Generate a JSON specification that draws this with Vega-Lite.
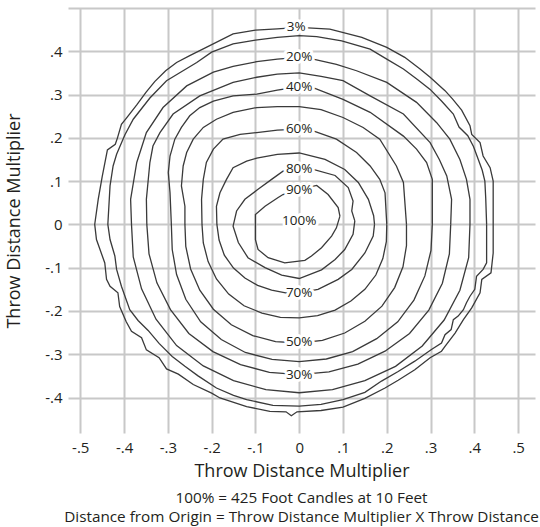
{
"$schema": "https://vega.github.io/schema/vega-lite/v6.json",
"width": 467, "height": 425,
"autosize": {"type": "none"},
"padding": {"left": 68, "top": 8, "right": 5, "bottom": 94},
"background": "white",
"title": {"text": ["100% = 425 Foot Candles at 10 Feet", "Distance from Origin = Throw Distance Multiplier X Throw Distance"], "orient": "bottom", "anchor": "middle", "fontSize": 15.3, "fontWeight": "normal", "font": "Open Sans", "color": "#231f20", "lineHeight": 19, "offset": 11},
"datasets": {
"contours": [
{"level":"3%","x":0.443,"y":0},{"level":"3%","x":0.443,"y":0.10},{"level":"3%","x":0.436,"y":0.131},{"level":"3%","x":0.420,"y":0.158},{"level":"3%","x":0.413,"y":0.189},{"level":"3%","x":0.394,"y":0.208},{"level":"3%","x":0.390,"y":0.228},{"level":"3%","x":0.371,"y":0.264},{"level":"3%","x":0.350,"y":0.290},{"level":"3%","x":0.333,"y":0.309},{"level":"3%","x":0.299,"y":0.340},{"level":"3%","x":0.276,"y":0.359},{"level":"3%","x":0.241,"y":0.386},{"level":"3%","x":0.200,"y":0.409},{"level":"3%","x":0.143,"y":0.432},{"level":"3%","x":0.070,"y":0.451},{"level":"3%","x":0,"y":0.455},{"level":"3%","x":-0.05,"y":0.452},{"level":"3%","x":-0.1,"y":0.449},{"level":"3%","x":-0.151,"y":0.440},{"level":"3%","x":-0.210,"y":0.410},{"level":"3%","x":-0.250,"y":0.390},{"level":"3%","x":-0.280,"y":0.374},{"level":"3%","x":-0.305,"y":0.355},{"level":"3%","x":-0.330,"y":0.330},{"level":"3%","x":-0.350,"y":0.305},{"level":"3%","x":-0.371,"y":0.276},{"level":"3%","x":-0.395,"y":0.245},{"level":"3%","x":-0.406,"y":0.231},{"level":"3%","x":-0.415,"y":0.200},{"level":"3%","x":-0.420,"y":0.185},{"level":"3%","x":-0.438,"y":0.172},{"level":"3%","x":-0.450,"y":0.110},{"level":"3%","x":-0.459,"y":0.058},{"level":"3%","x":-0.467,"y":0.0},{"level":"3%","x":-0.463,"y":-0.035},{"level":"3%","x":-0.444,"y":-0.089},{"level":"3%","x":-0.440,"y":-0.127},{"level":"3%","x":-0.432,"y":-0.143},{"level":"3%","x":-0.414,"y":-0.158},{"level":"3%","x":-0.410,"y":-0.190},{"level":"3%","x":-0.395,"y":-0.225},{"level":"3%","x":-0.383,"y":-0.247},{"level":"3%","x":-0.360,"y":-0.262},{"level":"3%","x":-0.349,"y":-0.290},{"level":"3%","x":-0.320,"y":-0.308},{"level":"3%","x":-0.303,"y":-0.334},{"level":"3%","x":-0.276,"y":-0.346},{"level":"3%","x":-0.242,"y":-0.370},{"level":"3%","x":-0.200,"y":-0.390},{"level":"3%","x":-0.181,"y":-0.401},{"level":"3%","x":-0.120,"y":-0.421},{"level":"3%","x":-0.067,"y":-0.432},{"level":"3%","x":-0.030,"y":-0.433},{"level":"3%","x":-0.018,"y":-0.442},{"level":"3%","x":-0.005,"y":-0.433},{"level":"3%","x":0.05,"y":-0.430},{"level":"3%","x":0.10,"y":-0.422},{"level":"3%","x":0.15,"y":-0.402},{"level":"3%","x":0.196,"y":-0.378},{"level":"3%","x":0.226,"y":-0.360},{"level":"3%","x":0.264,"y":-0.336},{"level":"3%","x":0.299,"y":-0.308},{"level":"3%","x":0.325,"y":-0.293},{"level":"3%","x":0.333,"y":-0.282},{"level":"3%","x":0.356,"y":-0.251},{"level":"3%","x":0.375,"y":-0.220},{"level":"3%","x":0.394,"y":-0.193},{"level":"3%","x":0.413,"y":-0.158},{"level":"3%","x":0.417,"y":-0.127},{"level":"3%","x":0.438,"y":-0.112},{"level":"3%","x":0.443,"y":-0.066},{"level":"3%","x":0.443,"y":0},

{"level":"10%","x":0.428,"y":0},{"level":"10%","x":0.426,"y":0.06},{"level":"10%","x":0.424,"y":0.100},{"level":"10%","x":0.418,"y":0.125},{"level":"10%","x":0.409,"y":0.150},{"level":"10%","x":0.398,"y":0.180},{"level":"10%","x":0.385,"y":0.205},{"level":"10%","x":0.365,"y":0.225},{"level":"10%","x":0.352,"y":0.255},{"level":"10%","x":0.325,"y":0.285},{"level":"10%","x":0.299,"y":0.312},{"level":"10%","x":0.270,"y":0.335},{"level":"10%","x":0.238,"y":0.359},{"level":"10%","x":0.200,"y":0.382},{"level":"10%","x":0.162,"y":0.405},{"level":"10%","x":0.097,"y":0.424},{"level":"10%","x":0.04,"y":0.434},{"level":"10%","x":0,"y":0.436},{"level":"10%","x":-0.05,"y":0.432},{"level":"10%","x":-0.1,"y":0.426},{"level":"10%","x":-0.151,"y":0.417},{"level":"10%","x":-0.200,"y":0.398},{"level":"10%","x":-0.234,"y":0.374},{"level":"10%","x":-0.270,"y":0.352},{"level":"10%","x":-0.303,"y":0.332},{"level":"10%","x":-0.341,"y":0.292},{"level":"10%","x":-0.379,"y":0.243},{"level":"10%","x":-0.398,"y":0.207},{"level":"10%","x":-0.417,"y":0.162},{"level":"10%","x":-0.425,"y":0.135},{"level":"10%","x":-0.432,"y":0.089},{"level":"10%","x":-0.437,"y":0},{"level":"10%","x":-0.432,"y":-0.035},{"level":"10%","x":-0.421,"y":-0.073},{"level":"10%","x":-0.417,"y":-0.104},{"level":"10%","x":-0.406,"y":-0.143},{"level":"10%","x":-0.387,"y":-0.197},{"level":"10%","x":-0.368,"y":-0.222},{"level":"10%","x":-0.345,"y":-0.245},{"level":"10%","x":-0.320,"y":-0.275},{"level":"10%","x":-0.290,"y":-0.305},{"level":"10%","x":-0.261,"y":-0.328},{"level":"10%","x":-0.231,"y":-0.350},{"level":"10%","x":-0.189,"y":-0.378},{"level":"10%","x":-0.150,"y":-0.395},{"level":"10%","x":-0.120,"y":-0.405},{"level":"10%","x":-0.06,"y":-0.418},{"level":"10%","x":0,"y":-0.420},{"level":"10%","x":0.05,"y":-0.416},{"level":"10%","x":0.10,"y":-0.405},{"level":"10%","x":0.15,"y":-0.388},{"level":"10%","x":0.188,"y":-0.362},{"level":"10%","x":0.226,"y":-0.340},{"level":"10%","x":0.264,"y":-0.316},{"level":"10%","x":0.302,"y":-0.289},{"level":"10%","x":0.325,"y":-0.274},{"level":"10%","x":0.333,"y":-0.255},{"level":"10%","x":0.347,"y":-0.243},{"level":"10%","x":0.352,"y":-0.220},{"level":"10%","x":0.363,"y":-0.212},{"level":"10%","x":0.375,"y":-0.197},{"level":"10%","x":0.382,"y":-0.181},{"level":"10%","x":0.390,"y":-0.166},{"level":"10%","x":0.401,"y":-0.150},{"level":"10%","x":0.405,"y":-0.120},{"level":"10%","x":0.420,"y":-0.104},{"level":"10%","x":0.428,"y":-0.089},{"level":"10%","x":0.428,"y":0},

{"level":"20%","x":0.390,"y":0},{"level":"20%","x":0.390,"y":0.058},{"level":"20%","x":0.382,"y":0.104},{"level":"20%","x":0.367,"y":0.150},{"level":"20%","x":0.344,"y":0.197},{"level":"20%","x":0.314,"y":0.235},{"level":"20%","x":0.268,"y":0.282},{"level":"20%","x":0.200,"y":0.328},{"level":"20%","x":0.131,"y":0.355},{"level":"20%","x":0.085,"y":0.370},{"level":"20%","x":0.032,"y":0.382},{"level":"20%","x":0,"y":0.386},{"level":"20%","x":-0.05,"y":0.382},{"level":"20%","x":-0.097,"y":0.376},{"level":"20%","x":-0.151,"y":0.365},{"level":"20%","x":-0.196,"y":0.352},{"level":"20%","x":-0.257,"y":0.320},{"level":"20%","x":-0.311,"y":0.270},{"level":"20%","x":-0.349,"y":0.212},{"level":"20%","x":-0.371,"y":0.143},{"level":"20%","x":-0.385,"y":0.058},{"level":"20%","x":-0.383,"y":0},{"level":"20%","x":-0.379,"y":-0.075},{"level":"20%","x":-0.360,"y":-0.149},{"level":"20%","x":-0.327,"y":-0.219},{"level":"20%","x":-0.280,"y":-0.280},{"level":"20%","x":-0.219,"y":-0.327},{"level":"20%","x":-0.150,"y":-0.361},{"level":"20%","x":-0.076,"y":-0.382},{"level":"20%","x":0,"y":-0.389},{"level":"20%","x":0.076,"y":-0.382},{"level":"20%","x":0.150,"y":-0.361},{"level":"20%","x":0.220,"y":-0.328},{"level":"20%","x":0.281,"y":-0.281},{"level":"20%","x":0.331,"y":-0.221},{"level":"20%","x":0.367,"y":-0.152},{"level":"20%","x":0.387,"y":-0.077},{"level":"20%","x":0.390,"y":0},

{"level":"30%","x":0.346,"y":0},{"level":"30%","x":0.348,"y":0.058},{"level":"30%","x":0.337,"y":0.112},{"level":"30%","x":0.320,"y":0.150},{"level":"30%","x":0.299,"y":0.189},{"level":"30%","x":0.238,"y":0.255},{"level":"30%","x":0.162,"y":0.297},{"level":"30%","x":0.100,"y":0.332},{"level":"30%","x":0.05,"y":0.342},{"level":"30%","x":0,"y":0.350},{"level":"30%","x":-0.05,"y":0.347},{"level":"30%","x":-0.097,"y":0.340},{"level":"30%","x":-0.151,"y":0.328},{"level":"30%","x":-0.227,"y":0.297},{"level":"30%","x":-0.288,"y":0.255},{"level":"30%","x":-0.318,"y":0.212},{"level":"30%","x":-0.334,"y":0.181},{"level":"30%","x":-0.341,"y":0.143},{"level":"30%","x":-0.349,"y":0.058},{"level":"30%","x":-0.348,"y":0},{"level":"30%","x":-0.343,"y":-0.068},{"level":"30%","x":-0.325,"y":-0.135},{"level":"30%","x":-0.294,"y":-0.197},{"level":"30%","x":-0.252,"y":-0.252},{"level":"30%","x":-0.197,"y":-0.294},{"level":"30%","x":-0.134,"y":-0.324},{"level":"30%","x":-0.068,"y":-0.342},{"level":"30%","x":0,"y":-0.347},{"level":"30%","x":0.068,"y":-0.341},{"level":"30%","x":0.134,"y":-0.323},{"level":"30%","x":0.196,"y":-0.293},{"level":"30%","x":0.252,"y":-0.252},{"level":"30%","x":0.296,"y":-0.198},{"level":"30%","x":0.327,"y":-0.136},{"level":"30%","x":0.343,"y":-0.068},{"level":"30%","x":0.346,"y":0},

{"level":"40%","x":0.304,"y":0},{"level":"40%","x":0.304,"y":0.104},{"level":"40%","x":0.291,"y":0.143},{"level":"40%","x":0.268,"y":0.174},{"level":"40%","x":0.238,"y":0.204},{"level":"40%","x":0.162,"y":0.259},{"level":"40%","x":0.100,"y":0.289},{"level":"40%","x":0.036,"y":0.314},{"level":"40%","x":0,"y":0.318},{"level":"40%","x":-0.05,"y":0.310},{"level":"40%","x":-0.097,"y":0.301},{"level":"40%","x":-0.151,"y":0.297},{"level":"40%","x":-0.196,"y":0.285},{"level":"40%","x":-0.227,"y":0.270},{"level":"40%","x":-0.250,"y":0.251},{"level":"40%","x":-0.269,"y":0.224},{"level":"40%","x":-0.284,"y":0.197},{"level":"40%","x":-0.295,"y":0.158},{"level":"40%","x":-0.299,"y":0.120},{"level":"40%","x":-0.295,"y":0.073},{"level":"40%","x":-0.292,"y":0},{"level":"40%","x":-0.290,"y":-0.058},{"level":"40%","x":-0.280,"y":-0.116},{"level":"40%","x":-0.259,"y":-0.173},{"level":"40%","x":-0.225,"y":-0.225},{"level":"40%","x":-0.178,"y":-0.266},{"level":"40%","x":-0.123,"y":-0.296},{"level":"40%","x":-0.062,"y":-0.312},{"level":"40%","x":0,"y":-0.317},{"level":"40%","x":0.062,"y":-0.311},{"level":"40%","x":0.122,"y":-0.294},{"level":"40%","x":0.177,"y":-0.264},{"level":"40%","x":0.225,"y":-0.225},{"level":"40%","x":0.262,"y":-0.175},{"level":"40%","x":0.287,"y":-0.119},{"level":"40%","x":0.301,"y":-0.060},{"level":"40%","x":0.304,"y":0},

{"level":"50%","x":0.245,"y":0},{"level":"50%","x":0.238,"y":0.097},{"level":"50%","x":0.222,"y":0.135},{"level":"50%","x":0.184,"y":0.197},{"level":"50%","x":0.146,"y":0.224},{"level":"50%","x":0.100,"y":0.247},{"level":"50%","x":0.05,"y":0.265},{"level":"50%","x":0,"y":0.272},{"level":"50%","x":-0.05,"y":0.272},{"level":"50%","x":-0.097,"y":0.270},{"level":"50%","x":-0.151,"y":0.259},{"level":"50%","x":-0.189,"y":0.243},{"level":"50%","x":-0.219,"y":0.224},{"level":"50%","x":-0.242,"y":0.197},{"level":"50%","x":-0.257,"y":0.166},{"level":"50%","x":-0.265,"y":0.135},{"level":"50%","x":-0.269,"y":0.089},{"level":"50%","x":-0.261,"y":0.042},{"level":"50%","x":-0.261,"y":0},{"level":"50%","x":-0.259,"y":-0.051},{"level":"50%","x":-0.248,"y":-0.103},{"level":"50%","x":-0.227,"y":-0.152},{"level":"50%","x":-0.196,"y":-0.196},{"level":"50%","x":-0.155,"y":-0.232},{"level":"50%","x":-0.106,"y":-0.257},{"level":"50%","x":-0.054,"y":-0.271},{"level":"50%","x":0,"y":-0.274},{"level":"50%","x":0.053,"y":-0.268},{"level":"50%","x":0.104,"y":-0.251},{"level":"50%","x":0.150,"y":-0.224},{"level":"50%","x":0.189,"y":-0.189},{"level":"50%","x":0.218,"y":-0.146},{"level":"50%","x":0.237,"y":-0.098},{"level":"50%","x":0.245,"y":-0.049},{"level":"50%","x":0.245,"y":0},

{"level":"60%","x":0.200,"y":0},{"level":"60%","x":0.196,"y":0.073},{"level":"60%","x":0.184,"y":0.104},{"level":"60%","x":0.162,"y":0.135},{"level":"60%","x":0.131,"y":0.166},{"level":"60%","x":0.085,"y":0.197},{"level":"60%","x":0.032,"y":0.216},{"level":"60%","x":0,"y":0.220},{"level":"60%","x":-0.05,"y":0.218},{"level":"60%","x":-0.097,"y":0.212},{"level":"60%","x":-0.135,"y":0.208},{"level":"60%","x":-0.174,"y":0.197},{"level":"60%","x":-0.196,"y":0.174},{"level":"60%","x":-0.212,"y":0.143},{"level":"60%","x":-0.219,"y":0.104},{"level":"60%","x":-0.223,"y":0.058},{"level":"60%","x":-0.222,"y":0},{"level":"60%","x":-0.219,"y":-0.043},{"level":"60%","x":-0.208,"y":-0.086},{"level":"60%","x":-0.189,"y":-0.126},{"level":"60%","x":-0.161,"y":-0.161},{"level":"60%","x":-0.126,"y":-0.188},{"level":"60%","x":-0.085,"y":-0.205},{"level":"60%","x":-0.043,"y":-0.215},{"level":"60%","x":0,"y":-0.216},{"level":"60%","x":0.042,"y":-0.211},{"level":"60%","x":0.082,"y":-0.198},{"level":"60%","x":0.118,"y":-0.177},{"level":"60%","x":0.150,"y":-0.150},{"level":"60%","x":0.175,"y":-0.117},{"level":"60%","x":0.191,"y":-0.079},{"level":"60%","x":0.199,"y":-0.040},{"level":"60%","x":0.200,"y":0},

{"level":"70%","x":0.172,"y":0},{"level":"70%","x":0.170,"y":0.020},{"level":"70%","x":0.158,"y":0.058},{"level":"70%","x":0.135,"y":0.097},{"level":"70%","x":0.104,"y":0.127},{"level":"70%","x":0.059,"y":0.150},{"level":"70%","x":0,"y":0.165},{"level":"70%","x":-0.05,"y":0.162},{"level":"70%","x":-0.097,"y":0.153},{"level":"70%","x":-0.120,"y":0.146},{"level":"70%","x":-0.151,"y":0.131},{"level":"70%","x":-0.166,"y":0.104},{"level":"70%","x":-0.181,"y":0.073},{"level":"70%","x":-0.189,"y":0.042},{"level":"70%","x":-0.188,"y":0},{"level":"70%","x":-0.183,"y":-0.036},{"level":"70%","x":-0.171,"y":-0.071},{"level":"70%","x":-0.150,"y":-0.101},{"level":"70%","x":-0.124,"y":-0.124},{"level":"70%","x":-0.095,"y":-0.141},{"level":"70%","x":-0.063,"y":-0.152},{"level":"70%","x":-0.031,"y":-0.158},{"level":"70%","x":0,"y":-0.158},{"level":"70%","x":0.043,"y":-0.150},{"level":"70%","x":0.089,"y":-0.127},{"level":"70%","x":0.120,"y":-0.104},{"level":"70%","x":0.150,"y":-0.066},{"level":"70%","x":0.169,"y":-0.027},{"level":"70%","x":0.172,"y":0},

{"level":"80%","x":0.127,"y":0.008},{"level":"80%","x":0.120,"y":0.031},{"level":"80%","x":0.123,"y":0.054},{"level":"80%","x":0.112,"y":0.085},{"level":"80%","x":0.082,"y":0.113},{"level":"80%","x":0.032,"y":0.127},{"level":"80%","x":0,"y":0.127},{"level":"80%","x":-0.037,"y":0.123},{"level":"80%","x":-0.063,"y":0.104},{"level":"80%","x":-0.094,"y":0.081},{"level":"80%","x":-0.124,"y":0.058},{"level":"80%","x":-0.143,"y":0.031},{"level":"80%","x":-0.151,"y":-0.004},{"level":"80%","x":-0.139,"y":-0.042},{"level":"80%","x":-0.117,"y":-0.077},{"level":"80%","x":-0.078,"y":-0.100},{"level":"80%","x":-0.040,"y":-0.117},{"level":"80%","x":0,"y":-0.125},{"level":"80%","x":0.051,"y":-0.105},{"level":"80%","x":0.082,"y":-0.081},{"level":"80%","x":0.104,"y":-0.058},{"level":"80%","x":0.123,"y":-0.023},{"level":"80%","x":0.127,"y":0.008},

{"level":"90%","x":0.093,"y":0.019},{"level":"90%","x":0.089,"y":0.039},{"level":"90%","x":0.066,"y":0.069},{"level":"90%","x":0.040,"y":0.090},{"level":"90%","x":0,"y":0.081},{"level":"90%","x":-0.037,"y":0.069},{"level":"90%","x":-0.048,"y":0.062},{"level":"90%","x":-0.078,"y":0.042},{"level":"90%","x":-0.100,"y":0.023},{"level":"90%","x":-0.100,"y":-0.035},{"level":"90%","x":-0.094,"y":-0.058},{"level":"90%","x":-0.071,"y":-0.077},{"level":"90%","x":-0.033,"y":-0.089},{"level":"90%","x":0.013,"y":-0.083},{"level":"90%","x":0.028,"y":-0.073},{"level":"90%","x":0.051,"y":-0.054},{"level":"90%","x":0.074,"y":-0.027},{"level":"90%","x":0.085,"y":-0.008},{"level":"90%","x":0.093,"y":0.019}
],
"labels": [
{"label":"3%","x":-0.007,"y":0.455},
{"label":"20%","x":0,"y":0.386},
{"label":"40%","x":0,"y":0.318},
{"label":"60%","x":0,"y":0.220},
{"label":"80%","x":0,"y":0.127},
{"label":"90%","x":0,"y":0.080},
{"label":"100%","x":0,"y":0.008},
{"label":"70%","x":0,"y":-0.158},
{"label":"50%","x":0,"y":-0.272},
{"label":"30%","x":0,"y":-0.349}
]
},
"encoding": {
"x": {"field": "x", "type": "quantitative", "scale": {"domain": [-0.528, 0.5385], "nice": false, "zero": false},
 "axis": {"values": [-0.5,-0.4,-0.3,-0.2,-0.1,0,0.1,0.2,0.3,0.4,0.5], "title": "Throw Distance Multiplier",
 "labelExpr": "datum.value == 0 ? '0' : (datum.value < 0 ? '-' : '') + replace(format(abs(datum.value), '.1f'), '0.', '.')",
 "labelPadding": 7, "titlePadding": 7}},
"y": {"field": "y", "type": "quantitative", "scale": {"domain": [-0.482, 0.5], "nice": false, "zero": false},
 "axis": {"values": [-0.4,-0.3,-0.2,-0.1,0,0.1,0.2,0.3,0.4,0.5], "title": "Throw Distance Multiplier",
 "labelExpr": "datum.value > 0.45 ? '' : datum.value == 0 ? '0' : (datum.value < 0 ? '-' : '') + replace(format(abs(datum.value), '.1f'), '0.', '.')",
 "labelPadding": 6, "titlePadding": 21}}
},
"layer": [
{"data": {"name": "contours"}, "mark": {"type": "line", "color": "#3a3a3a", "strokeWidth": 1.3},
 "encoding": {"detail": {"field": "level"}, "order": {"value": null}}},
{"data": {"name": "labels"}, "mark": {"type": "text", "font": "Open Sans", "fontSize": 13.5, "fill": "white", "stroke": "white", "strokeWidth": 6, "strokeJoin": "round", "baseline": "middle", "align": "center"},
 "encoding": {"text": {"field": "label"}}},
{"data": {"name": "labels"}, "mark": {"type": "text", "font": "Open Sans", "fontSize": 13.5, "fill": "#231f20", "baseline": "middle", "align": "center"},
 "encoding": {"text": {"field": "label"}}}
],
"config": {
"view": {"stroke": null},
"axis": {"domain": false, "ticks": false, "grid": true, "gridColor": "#c8c8c8", "gridWidth": 2,
 "labelFont": "Open Sans", "labelFontSize": 15, "labelColor": "#231f20", "labelFlush": false, "labelOverlap": false,
 "titleFont": "Open Sans", "titleFontSize": 18, "titleFontWeight": "normal", "titleColor": "#231f20"}
}
}
